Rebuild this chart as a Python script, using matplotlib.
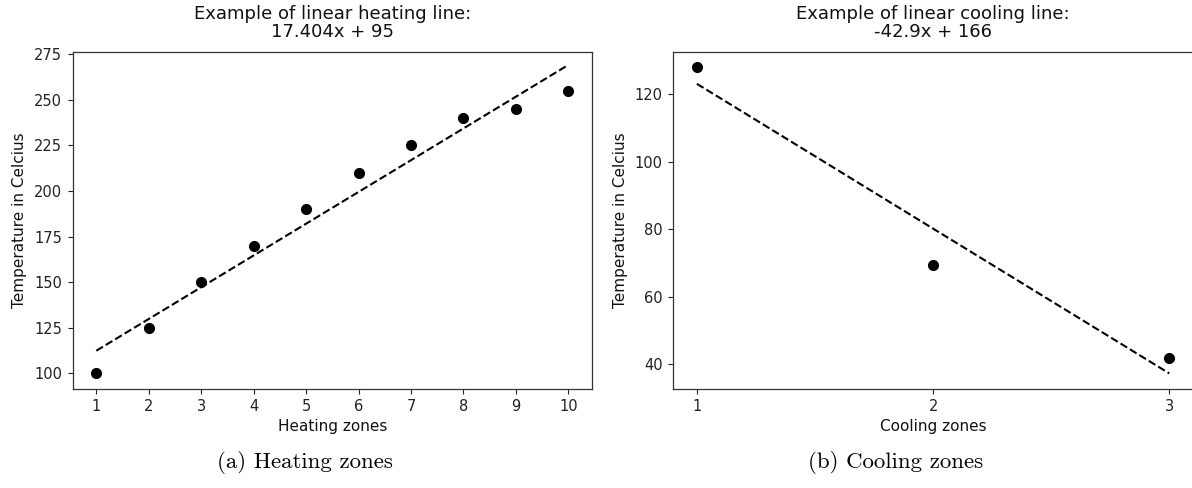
import numpy as np
import matplotlib
matplotlib.use("Agg")
import matplotlib.pyplot as plt

# Measured zone temperatures
heating_zones = [1, 2, 3, 4, 5, 6, 7, 8, 9, 10]
heating_temps = [100, 125, 150, 170, 190, 210, 225, 240, 245, 255]
cooling_zones = [1, 2, 3]
cooling_temps = [128, 69.5, 42]

# Linear fits as stated in the titles (slope, intercept)
heating_fit = (17.404, 95)
cooling_fit = (-42.9, 166)

fig = plt.figure(figsize=(11.92, 4.88), dpi=100)

ax_heat = fig.add_axes([72.7 / 1192, 1 - 388.7 / 488, 519.3 / 1192, 336.7 / 488])
ax_cool = fig.add_axes([673.3 / 1192, 1 - 388.7 / 488, 519.6 / 1192, 336.7 / 488])


def draw_panel(ax, zones, temps, fit, title, xlabel):
    x = np.array(zones, dtype=float)
    slope, intercept = fit
    ax.plot(x, slope * x + intercept, "k--", linewidth=1.5)
    ax.plot(x, temps, "o", color="black", markersize=7)
    ax.set_xticks(zones)
    ax.set_title(title, fontsize=13, pad=11, linespacing=0.98, color="#111111")
    ax.set_xlabel(xlabel, fontsize=11, labelpad=3.5, color="#111111")
    ax.set_ylabel("Temperature in Celcius", fontsize=11, labelpad=5, color="#111111")
    ax.tick_params(labelsize=10.5, length=3.5, width=0.8, pad=4, colors="#222222")
    for spine in ax.spines.values():
        spine.set_color("#333333")
        spine.set_linewidth(0.9)


draw_panel(ax_heat, heating_zones, heating_temps, heating_fit,
           "Example of linear heating line:\n17.404x + 95", "Heating zones")
ax_heat.set_ylim(91.6, 276.1)

draw_panel(ax_cool, cooling_zones, cooling_temps, cooling_fit,
           "Example of linear cooling line:\n-42.9x + 166", "Cooling zones")

# Sub-figure captions
fig.text(305 / 1192, 1 - 462 / 488, "(a) Heating zones", family="cmr10",
         fontsize=16.5, ha="center", va="center")
fig.text(896 / 1192, 1 - 462 / 488, "(b) Cooling zones", family="cmr10",
         fontsize=16.5, ha="center", va="center")

fig.savefig("out.png", dpi=100)
